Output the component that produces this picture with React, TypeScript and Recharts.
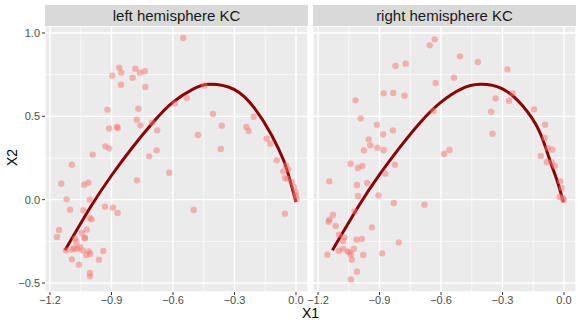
import {
  ComposedChart, Scatter, Line, XAxis, YAxis, CartesianGrid, ReferenceLine,
} from 'recharts';

const X_DOMAIN: [number, number] = [-1.2244, 0.0585];
const Y_DOMAIN: [number, number] = [-0.554, 1.042];
const X_TICKS = [-1.2, -0.9, -0.6, -0.3, 0];
const Y_TICKS = [-0.5, 0, 0.5, 1.0];
const X_MINOR = [-1.05, -0.75, -0.45, -0.15];
const Y_MINOR = [-0.25, 0.25, 0.75];

const leftX = [
  -0.862, -0.784, -0.852, -0.761, -0.738, -0.896, -0.797, -0.854, -0.735, -0.92,
  -0.769, -0.777, -0.759, -0.702, -0.677, -0.911, -0.873, -0.87, -0.93, -0.911,
  -0.68, -0.992, -0.716, -0.592, -0.55, -0.533, -0.447, -0.405, -0.362, -0.478,
  -0.367, -0.206, -0.242, -0.231, -0.143, -0.125, -0.094, -1.093, -1.145, -1.033,
  -1.013, -1.119, -1.006, -1.102, -1.037, -0.932, -0.893, -0.87, -1.006, -0.997,
  -0.776, -0.618, -1.156, -1.166, -1.021, -1.045, -1.031, -1.03, -1.077, -1.072,
  -1.082, -1.067, -1.054, -1.093, -1.122, -1.04, -1.01, -1.023, -1.004, -0.94,
  -1.093, -0.961, -1.059, -1.005, -1.005, -0.499, -0.049, -0.038, -0.062, -0.054,
  -0.042, -0.021, -0.01, -0.003, 0.0, 0.003, -0.054,
];
const leftY = [
  0.792, 0.786, 0.762, 0.762, 0.771, 0.744, 0.732, 0.69, 0.676, 0.54,
  0.546, 0.48, 0.446, 0.462, 0.416, 0.428, 0.436, 0.43, 0.32, 0.308,
  0.296, 0.27, 0.26, 0.578, 0.97, 0.61, 0.685, 0.514, 0.444, 0.388,
  0.304, 0.498, 0.436, 0.412, 0.366, 0.336, 0.236, 0.21, 0.096, 0.09,
  0.102, 0.002, 0.0, -0.06, -0.064, -0.042, -0.048, -0.08, -0.11, -0.118,
  0.116, 0.162, -0.182, -0.224, -0.18, -0.2, -0.228, -0.232, -0.234, -0.254,
  -0.29, -0.294, -0.284, -0.3, -0.304, -0.304, -0.31, -0.332, -0.326, -0.308,
  -0.358, -0.36, -0.39, -0.44, -0.46, -0.062, 0.206, 0.182, 0.17, 0.13,
  0.126, 0.106, 0.076, 0.046, 0.026, 0.006, -0.084,
];

const rightX = [
  -0.631, -0.655, -0.822, -0.772, -0.626, -0.88, -0.833, -0.778, -1.017, -0.992,
  -0.637, -0.913, -0.835, -0.882, -0.953, -0.945, -0.91, -0.976, -0.88, -0.585,
  -0.559, -0.507, -0.42, -0.276, -0.537, -0.25, -0.334, -0.268, -0.355, -0.146,
  -0.349, -0.092, -0.094, -0.079, -0.057, -0.113, -1.041, -1.005, -0.984, -0.825,
  -0.872, -1.145, -1.01, -0.96, -1.005, -0.905, -0.83, -0.681, -1.021, -1.127,
  -1.145, -1.148, -1.114, -0.937, -1.098, -1.072, -1.078, -1.012, -0.986, -0.806,
  -1.078, -1.098, -1.056, -1.046, -1.025, -1.04, -0.979, -0.887, -1.154, -1.035,
  -1.01, -1.04, -0.084, -0.06, -0.045, -0.018, -0.011, -0.021, -0.005, -0.001,
];
const rightY = [
  0.962, 0.926, 0.802, 0.816, 0.7, 0.638, 0.64, 0.624, 0.596, 0.488,
  0.532, 0.45, 0.416, 0.392, 0.362, 0.326, 0.312, 0.296, 0.298, 0.274,
  0.298, 0.86, 0.826, 0.782, 0.732, 0.638, 0.608, 0.594, 0.528, 0.542,
  0.396, 0.45, 0.37, 0.31, 0.3, 0.262, 0.216, 0.19, 0.202, 0.21,
  0.156, 0.11, 0.088, 0.1, 0.022, 0.026, -0.02, -0.03, -0.07, -0.092,
  -0.12, -0.132, -0.158, -0.166, -0.21, -0.226, -0.248, -0.24, -0.236, -0.256,
  -0.294, -0.306, -0.31, -0.316, -0.296, -0.33, -0.332, -0.322, -0.33, -0.36,
  -0.432, -0.478, 0.226, 0.224, 0.202, 0.11, 0.07, 0.016, 0.01, -0.002,
];

// fitted curve
const leftFitX = [-1.127, -1.0, -0.9, -0.8, -0.7, -0.6, -0.5, -0.42, -0.3, -0.2, -0.12, -0.06, -0.03, 0.0];
const leftFitY = [-0.304, -0.04, 0.145, 0.31, 0.46, 0.585, 0.665, 0.692, 0.66, 0.545, 0.39, 0.235, 0.12, -0.014];
const rightFitX = [-1.13, -1.0, -0.9, -0.8, -0.7, -0.6, -0.5, -0.41, -0.3, -0.2, -0.12, -0.07, -0.035, -0.003];
const rightFitY = [-0.304, -0.035, 0.15, 0.315, 0.465, 0.585, 0.665, 0.692, 0.665, 0.56, 0.41, 0.24, 0.12, -0.014];

const FONT = '"Liberation Sans", Arial, sans-serif';
const fmt = (v: number) => (v < 0 ? '\u2212' : '') + Math.abs(v).toFixed(1);
const zip = (xs: number[], ys: number[]) => xs.map((x, i) => ({ x, y: ys[i] }));

const Dot = (p: any) => (
  <circle cx={p.cx} cy={p.cy} r={3.2} fill="#F8766D" fillOpacity={0.5} />
);

interface PanelProps {
  xs: number[];
  ys: number[];
  fx: number[];
  fy: number[];
  showY: boolean;
  width: number;
  margin: { top: number; right: number; bottom: number; left: number };
}

function Panel({ xs, ys, fx, fy, showY, width, margin }: PanelProps) {
  const tickStyle = { fontSize: 11, fill: '#4D4D4D', fontFamily: FONT };
  return (
    <ComposedChart width={width} height={323} margin={margin}>
      <CartesianGrid fill="#EBEBEB" stroke="#FFFFFF" strokeWidth={1.4} />
      {X_MINOR.map((v) => (
        <ReferenceLine key={'x' + v} x={v} stroke="#FFFFFF" strokeWidth={0.7} />
      ))}
      {Y_MINOR.map((v) => (
        <ReferenceLine key={'y' + v} y={v} stroke="#FFFFFF" strokeWidth={0.7} />
      ))}
      <XAxis
        dataKey="x"
        type="number"
        domain={X_DOMAIN}
        ticks={X_TICKS}
        tickFormatter={fmt}
        allowDataOverflow
        axisLine={false}
        tickLine={{ stroke: '#333333' }}
        tickSize={3}
        tickMargin={1}
        height={20}
        tick={tickStyle}
        interval={0}
      />
      <YAxis
        dataKey="y"
        type="number"
        domain={Y_DOMAIN}
        ticks={Y_TICKS}
        tickFormatter={fmt}
        allowDataOverflow
        axisLine={false}
        tickLine={{ stroke: '#333333' }}
        tickSize={3}
        tickMargin={2}
        width={45}
        tick={tickStyle}
        hide={!showY}
        interval={0}
      />
      <Scatter data={zip(xs, ys)} dataKey="y" shape={Dot} isAnimationActive={false} />
      <Line
        data={zip(fx, fy)}
        dataKey="y"
        type="natural"
        stroke="#8B0000"
        strokeWidth={3}
        dot={false}
        activeDot={false}
        isAnimationActive={false}
      />
    </ComposedChart>
  );
}

const stripStyle = (left: number): React.CSSProperties => ({
  position: 'absolute',
  left,
  top: 5,
  width: 263,
  height: 21,
  background: '#D9D9D9',
  color: '#1A1A1A',
  fontSize: 15,
  lineHeight: '21px',
  textAlign: 'center',
  fontFamily: FONT,
});

export default function App() {
  return (
    <div style={{ position: 'fixed', left: 0, top: 0, width: 581, height: 323, background: '#fff', fontFamily: FONT }}>
      <div style={{ position: 'absolute', left: 0, top: 0 }}>
        <Panel xs={leftX} ys={leftY} fx={leftFitX} fy={leftFitY} showY width={310}
          margin={{ top: 26, right: 2, bottom: 11, left: 0 }} />
      </div>
      <div style={{ position: 'absolute', left: 300, top: 0 }}>
        <Panel xs={rightX} ys={rightY} fx={rightFitX} fy={rightFitY} showY={false} width={281}
          margin={{ top: 26, right: 5, bottom: 11, left: 13 }} />
      </div>
      <div style={stripStyle(45)}>left hemisphere KC</div>
      <div style={stripStyle(313)}>right hemisphere KC</div>
      <div style={{ position: 'absolute', left: 290, top: 305, width: 41, textAlign: 'center', fontSize: 14, color: '#000' }}>X1</div>
      <div style={{ position: 'absolute', left: 4, top: 150, fontSize: 14, color: '#000', transform: 'rotate(-90deg)', transformOrigin: 'left top', lineHeight: '16px', width: 20 }}>
        <span style={{ position: 'absolute', left: -16, top: 0 }}>X2</span>
      </div>
    </div>
  );
}
